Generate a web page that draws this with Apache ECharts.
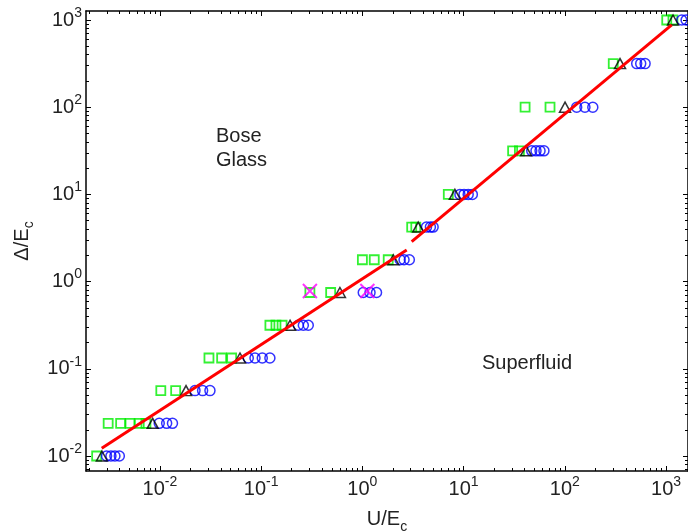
<!DOCTYPE html>
<html>
<head>
<meta charset="utf-8">
<script src="https://cdn.jsdelivr.net/npm/echarts@6/dist/echarts.min.js"></script>
<style>
  html, body { margin: 0; padding: 0; background: #fff; }
  #chart { width: 688px; height: 532px; }
</style>
</head>
<body>
<div id="chart"></div>
<script>
// Δ/E_c levels of each row of markers
const rowLevels = [0.01, 0.0237, 0.0562, 0.133, 0.316, 0.75, 1.78, 4.22, 10, 31.6, 100, 316, 1000];

// green squares: [U/E_c, Δ/E_c]
const squarePts = [
  [0.00237, 0.01],
  [0.00308, 0.0237], [0.00409, 0.0237], [0.00506, 0.0237], [0.00624, 0.0237], [0.00727, 0.0237],
  [0.0102, 0.0562], [0.0143, 0.0562],
  [0.0305, 0.133], [0.0407, 0.133], [0.0511, 0.133],
  [0.122, 0.316], [0.140, 0.316], [0.161, 0.316],
  [0.303, 0.75], [0.486, 0.75],
  [1.0, 1.78], [1.31, 1.78], [1.80, 1.78],
  [3.07, 4.22], [3.37, 4.22],
  [7.06, 10],
  [30.5, 31.6], [35.6, 31.6],
  [40.5, 100], [71.4, 100],
  [301, 316],
  [1016, 1000], [1170, 1000]
];

// blue circles
const circlePts = [
  [0.00297, 0.01], [0.00328, 0.01], [0.00359, 0.01], [0.00397, 0.01],
  [0.00984, 0.0237], [0.01165, 0.0237], [0.0133, 0.0237],
  [0.0222, 0.0562], [0.0264, 0.0562], [0.0312, 0.0562],
  [0.0746, 0.133], [0.0869, 0.133], [0.1026, 0.133], [0.122, 0.133],
  [0.233, 0.316], [0.261, 0.316], [0.292, 0.316],
  [1.02, 0.75], [1.19, 0.75], [1.38, 0.75],
  [2.36, 1.78], [2.58, 1.78], [2.91, 1.78],
  [4.3, 4.22], [4.7, 4.22], [5.0, 4.22],
  [9.2, 10], [10.1, 10], [11.1, 10], [12.2, 10],
  [47.1, 31.6], [51.9, 31.6], [56.9, 31.6], [62.2, 31.6],
  [131, 100], [158, 100], [189, 100],
  [513, 316], [562, 316], [621, 316],
  [1429, 1000], [1578, 1000]
];

// black triangles
const trianglePts = [
  [0.00267, 0.01], [0.00848, 0.0237], [0.0181, 0.0562], [0.0618, 0.133],
  [0.193, 0.316], [0.60, 0.75], [2.02, 1.78], [3.56, 4.22], [8.2, 10],
  [41.4, 31.6], [100.5, 100], [351, 316], [1172, 1000]
];

// magenta crosses
const crossPts = [[0.303, 0.78], [1.12, 0.78]];

// red fit, two pieces
const fitLow = [[0.00266, 0.01225], [2.74, 2.30]];
const fitHigh = [[3.07, 2.87], [1138, 877]];

// axis ranges and tick labels
const xMin = 0.00186, xMax = 1648;
const yMin = 0.00673, yMax = 1268;
const xMajor = [0.01, 0.1, 1, 10, 100, 1000];
const yMajor = [0.01, 0.1, 1, 10, 100, 1000];

function minorTicks(lo, hi) {
  const out = [];
  for (let k = -4; k <= 4; k++) {
    for (let m = 2; m <= 9; m++) {
      const v = m * Math.pow(10, k);
      if (v > lo && v < hi) out.push(v);
    }
  }
  return out;
}
const xMinor = minorTicks(xMin, xMax);
const yMinor = minorTicks(yMin, yMax);

const FONT = "'Liberation Sans', Arial, sans-serif";
const TXT = '#222';

const powLabel = {
  fontFamily: FONT,
  color: TXT,
  formatter: v => '{b|10}{s|' + Math.round(Math.log10(v)) + '}',
  rich: {
    b: { fontFamily: FONT, color: TXT, fontSize: 20, lineHeight: 28 },
    s: { fontFamily: FONT, color: TXT, fontSize: 14, lineHeight: 14, verticalAlign: 'top' }
  }
};

const lineStyle = { color: '#000', width: 1.5 };

function makeAxis(pos, lo, hi, ticks, len, withLine, label) {
  return {
    type: 'log',
    position: pos,
    min: lo,
    max: hi,
    axisLine: { show: withLine, onZero: false, lineStyle: lineStyle },
    axisTick: { show: true, inside: true, length: len, customValues: ticks, lineStyle: { color: '#000', width: 1 } },
    axisLabel: label ? Object.assign({ customValues: ticks, margin: 4 }, powLabel) : { show: false },
    splitLine: { show: false },
    minorTick: { show: false }
  };
}

const nameStyle = {
  fontFamily: FONT, color: TXT,
  rich: {
    t: { fontFamily: FONT, color: TXT, fontSize: 20, lineHeight: 24, verticalAlign: 'top' },
    c: { fontFamily: FONT, color: TXT, fontSize: 14, lineHeight: 14, verticalAlign: 'bottom', padding: [16, 0, 0, 0] }
  }
};

const xBottom = makeAxis('bottom', xMin, xMax, xMajor, 5, true, true);
xBottom.name = '{t|U/E}{c|c}';
xBottom.nameLocation = 'middle';
xBottom.nameGap = 23;
xBottom.nameTextStyle = nameStyle;

const yLeft = makeAxis('left', yMin, yMax, yMajor, 5, true, true);
yLeft.name = '{t|Δ/E}{c|c}';
yLeft.nameLocation = 'middle';
yLeft.nameGap = 43;
yLeft.nameTextStyle = nameStyle;

const option = {
  animation: false,
  backgroundColor: '#fff',
  grid: { left: 86, right: 0, top: 11, bottom: 61, containLabel: false, outerBoundsMode: 'none' },
  xAxis: [
    xBottom,
    makeAxis('bottom', xMin, xMax, xMinor, 3, false, false),
    makeAxis('top', xMin, xMax, xMajor, 5, true, false),
    makeAxis('top', xMin, xMax, xMinor, 3, false, false)
  ],
  yAxis: [
    yLeft,
    makeAxis('left', yMin, yMax, yMinor, 3, false, false),
    makeAxis('right', yMin, yMax, yMajor, 5, true, false),
    makeAxis('right', yMin, yMax, yMinor, 3, false, false)
  ],
  series: [
    {
      name: 'squares', type: 'scatter', data: squarePts, clip: true,
      symbol: 'rect', symbolSize: 9,
      itemStyle: { color: 'rgba(0,0,0,0)', borderColor: '#00ee00', borderWidth: 1.8 }
    },
    {
      name: 'circles', type: 'scatter', data: circlePts, clip: true,
      symbol: 'circle', symbolSize: 10,
      itemStyle: { color: 'rgba(0,0,0,0)', borderColor: '#0000ff', borderWidth: 1.5 }
    },
    {
      name: 'fit low', type: 'line', data: fitLow, clip: true,
      symbol: 'none', lineStyle: { color: '#ff0000', width: 3 }
    },
    {
      name: 'fit high', type: 'line', data: fitHigh, clip: true,
      symbol: 'none', lineStyle: { color: '#ff0000', width: 3 }
    },
    {
      name: 'triangles', type: 'scatter', data: trianglePts, clip: true,
      symbol: 'triangle', symbolSize: [11, 10],
      itemStyle: { color: 'rgba(0,0,0,0)', borderColor: '#000', borderWidth: 1.5 }
    },
    {
      name: 'crosses', type: 'scatter', data: crossPts, clip: true,
      symbol: 'path://M0,0L10,10M10,0L0,10', symbolSize: 14,
      itemStyle: { color: 'none', borderColor: '#ff00ff', borderWidth: 2 }
    }
  ],
  graphic: [
    {
      type: 'text', left: 216, top: 124,
      style: { text: 'Bose\nGlass', font: '20px ' + FONT, fill: TXT, lineHeight: 24 }
    },
    {
      type: 'text', left: 482, top: 353,
      style: { text: 'Superfluid', font: '20px ' + FONT, fill: TXT }
    }
  ]
};

const chart = echarts.init(document.getElementById('chart'), null, { renderer: 'canvas' });
chart.setOption(option);
</script>
</body>
</html>
